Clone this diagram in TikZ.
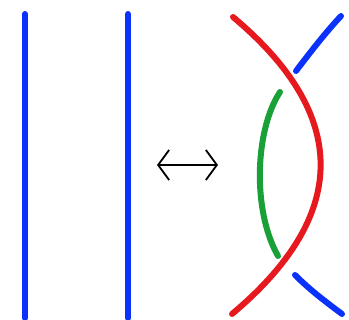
\documentclass[tikz,border=0pt]{standalone}
\usepackage{xcolor}
\usepackage{tikz}
\usetikzlibrary{arrows.meta}
\definecolor{strandblue}{RGB}{10,50,250}
\definecolor{strandred}{RGB}{230,25,30}
\definecolor{strandgreen}{RGB}{25,160,55}

\begin{document}
\begin{tikzpicture}[
    x=1pt, y=-1pt,
    strand/.style={line width=6pt, line cap=round},
    arr/.style={{Straight Barb[length=11pt, width=30pt]}-{Straight Barb[length=11pt, width=30pt]}, line width=1.8pt},
]
\useasboundingbox (0,0) rectangle (349,320);
% --- Two straight strands ---
\draw[strand, strandblue] (25,14) -- (25,318);
\draw[strand, strandblue] (128,14) -- (128,318);

% --- Move arrow ---
\coordinate (a_l) at (157,165);
\coordinate (a_r) at (218,165);
\draw[arr] (a_l) -- (a_r);

% --- Twisted strands ---
\draw[strand, strandred] (233,17) .. controls (350,115) and (350,215) .. (232,314);
\draw[strand, strandgreen] (280,92) .. controls (255,130) and (252,210) .. (278,256);
\draw[strand, strandblue] (296,71) .. controls (312,50) and (326,32) .. (341,16);
\draw[strand, strandblue] (295,275) .. controls (310,290) and (326,302) .. (342,314);
\end{tikzpicture}
\end{document}
